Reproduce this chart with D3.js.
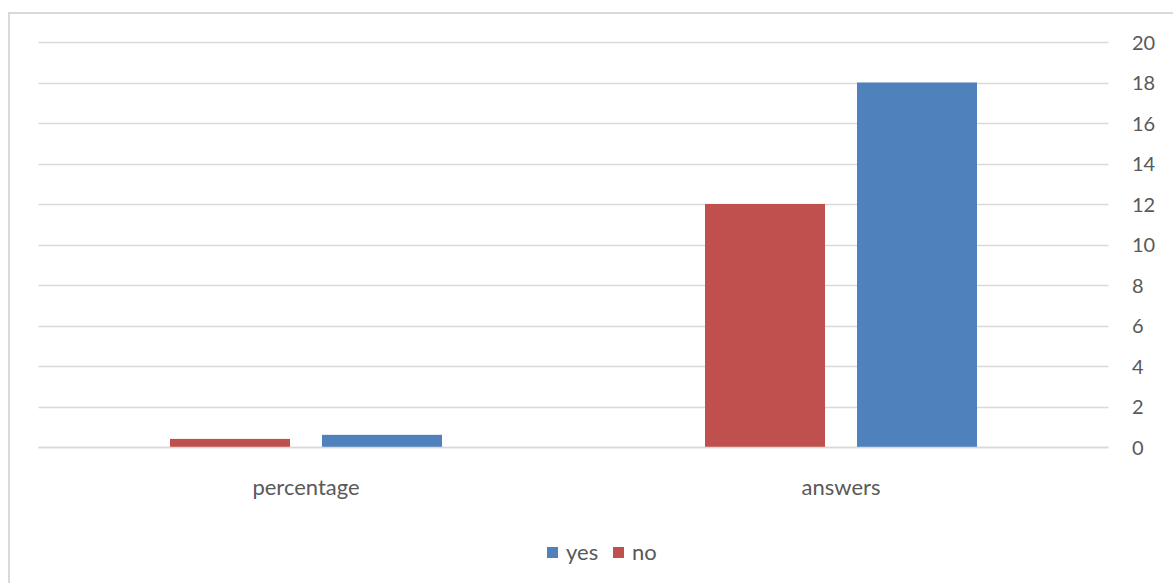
<!DOCTYPE html>
<html>
<head>
<meta charset="utf-8">
<script src="https://cdn.jsdelivr.net/npm/d3@7"></script>
<style>
  html, body { margin: 0; padding: 0; background: #fff; }
  svg { display: block; }
  text { font-family: Lato, "Open Sans", sans-serif; fill: #595959; }
</style>
</head>
<body>
<svg id="chart" width="1173" height="583"></svg>
<script>
// Categories along the x axis
const categories = ["percentage", "answers"];
// Series (drawn left to right within each category: no, then yes)
const seriesNames = ["no", "yes"];
const noValues = [0.4, 12];
const yesValues = [0.6, 18];
// Right-hand axis ticks
const yTicks = [0, 2, 4, 6, 8, 10, 12, 14, 16, 18, 20];
// Legend order
const legendItems = ["yes", "no"];

const colors = { yes: "#4f81bd", no: "#c0504d" };
const seriesValues = { no: noValues, yes: yesValues };

const svg = d3.select("#chart");
const W = 1173, H = 583;

// Outer chart frame
svg.append("rect")
  .attr("x", 9).attr("y", 13)
  .attr("width", W + 10).attr("height", H + 10)
  .attr("fill", "none")
  .attr("stroke", "#d9d9d9")
  .attr("stroke-width", 2);

const plot = { left: 38.5, right: 1108.5, top: 42, bottom: 447 };

const x = d3.scaleBand()
  .domain(categories)
  .range([plot.left, plot.right])
  .paddingInner(0).paddingOuter(0);

const inner = d3.scaleBand()
  .domain(seriesNames)
  .range([0, x.bandwidth()])
  .paddingInner(32 / 152)
  .paddingOuter(131.5 / 152);

const y = d3.scaleLinear().domain([0, 20]).range([plot.bottom, plot.top]);

// Horizontal gridlines
svg.append("g")
  .selectAll("line")
  .data(yTicks)
  .join("line")
  .attr("x1", plot.left).attr("x2", plot.right)
  .attr("y1", d => Math.round(y(d)) + 0.5)
  .attr("y2", d => Math.round(y(d)) + 0.5)
  .attr("stroke", "#d9d9d9")
  .attr("stroke-width", 1.5);

// Right axis labels
const yAxis = d3.axisRight(y).tickValues(yTicks).tickSize(0).tickPadding(0);
const ga = svg.append("g")
  .attr("transform", `translate(1132,0)`)
  .call(yAxis);
ga.select(".domain").remove();
ga.selectAll("text")
  .attr("font-size", 20)
  .attr("font-family", "Lato, 'Open Sans', sans-serif")
  .attr("fill", "#595959")
  .attr("dy", "0.35em")
  .attr("text-anchor", "start");

// Bars
const groups = svg.append("g")
  .selectAll("g")
  .data(categories)
  .join("g")
  .attr("transform", d => `translate(${x(d)},0)`);

groups.selectAll("rect")
  .data((c, i) => seriesNames.map(s => ({ s, v: seriesValues[s][i] })))
  .join("rect")
  .attr("x", d => inner(d.s))
  .attr("width", inner.bandwidth())
  .attr("y", d => y(d.v))
  .attr("height", d => y(0) - y(d.v))
  .attr("fill", d => colors[d.s]);

// Zero line redrawn above the bars
svg.append("line")
  .attr("x1", plot.left).attr("x2", plot.right)
  .attr("y1", Math.round(y(0)) + 0.5).attr("y2", Math.round(y(0)) + 0.5)
  .attr("stroke", "#d9d9d9").attr("stroke-width", 1.5);

// Category labels
const xAxis = d3.axisBottom(x).tickSize(0).tickPadding(0);
const gx = svg.append("g")
  .attr("transform", `translate(0,${plot.bottom})`)
  .call(xAxis);
gx.select(".domain").remove();
gx.selectAll("text")
  .attr("font-size", 22)
  .attr("font-family", "Lato, 'Open Sans', sans-serif")
  .attr("fill", "#595959")
  .attr("dy", 0)
  .attr("y", 48);

// Legend
const legend = svg.append("g").attr("transform", "translate(547,547)");
const offsets = { yes: 0, no: 66 };
const li = legend.selectAll("g")
  .data(legendItems)
  .join("g")
  .attr("transform", d => `translate(${offsets[d]},0)`);
li.append("rect")
  .attr("width", 11).attr("height", 11)
  .attr("fill", d => colors[d]);
li.append("text")
  .attr("x", 19).attr("y", 13)
  .attr("font-size", 22)
  .text(d => d);
</script>
</body>
</html>
